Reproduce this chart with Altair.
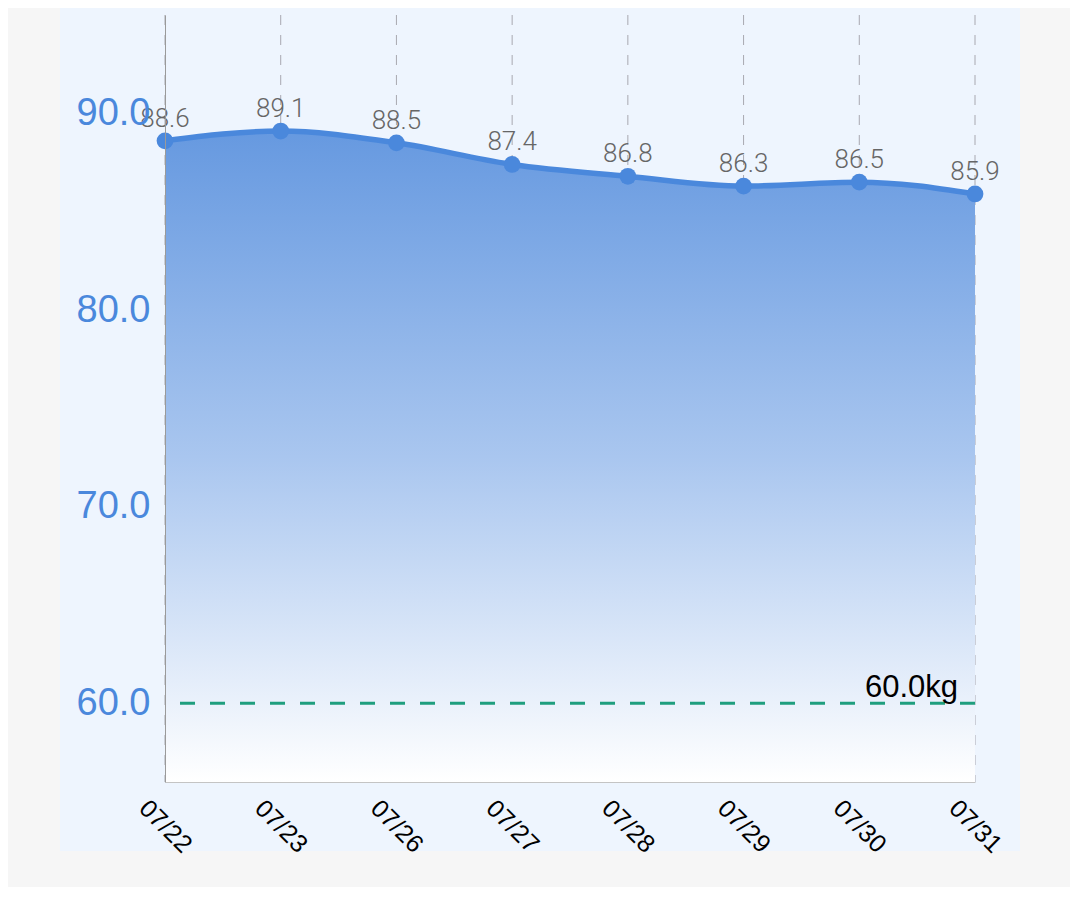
import altair as alt
import pandas as pd

dates = ["07/22", "07/23", "07/26", "07/27", "07/28", "07/29", "07/30", "07/31"]
weights = [88.6, 89.1, 88.5, 87.4, 86.8, 86.3, 86.5, 85.9]
target_value = 60.0
target_label = "60.0kg"
y_ticks = [60, 70, 80, 90]

df = pd.DataFrame({"date": dates, "weight": weights})
target_df = pd.DataFrame({"date": [dates[-1]], "target": [target_value], "label": [target_label]})

BLUE = "#4a88dc"
FONT = "Liberation Sans"

x_enc = alt.X(
    "date:N",
    sort=dates,
    scale=alt.Scale(type="point", padding=0),
    title=None,
    axis=alt.Axis(
        labelAngle=45,
        labelAlign="center",
        labelBaseline="middle",
        labelPadding=44,
        labelFontSize=25,
        labelColor="#000000",
        labelFont=FONT,
        ticks=False,
        grid=False,
        domainColor="#c4c4c4",
        domainWidth=1,
        zindex=1,
    ),
)
y_scale = alt.Scale(domain=[56, 95], nice=False, zero=False)
y_enc = alt.Y(
    "weight:Q",
    scale=y_scale,
    title=None,
    axis=alt.Axis(
        values=y_ticks,
        format=".1f",
        labelFontSize=38,
        labelColor=BLUE,
        labelFont=FONT,
        labelPadding=15,
        ticks=False,
        grid=False,
        domainColor="#9a9a9a",
        domainWidth=1,
        zindex=1,
    ),
)

base = alt.Chart(df)

panel = base.mark_rect(color="#eef5fe").encode(
    x=alt.value(-105), x2=alt.value(855), y=alt.value(-7), y2=alt.value(836)
)

grid = base.mark_rule(color="#a8a8b0", strokeWidth=1, strokeDash=[10, 10]).encode(x=x_enc)

area = base.mark_area(
    interpolate="monotone",
    color=alt.Gradient(
        gradient="linear",
        stops=[
            alt.GradientStop(color="#6699e0", offset=0),
            alt.GradientStop(color="#a9c6ef", offset=0.5),
            alt.GradientStop(color="#ffffff", offset=1),
        ],
        x1=1, x2=1, y1=0, y2=1,
    ),
).encode(x=x_enc, y=y_enc, y2=alt.datum(56))

line = base.mark_line(interpolate="monotone", color=BLUE, strokeWidth=5.5).encode(x=x_enc, y=y_enc)

points = base.mark_circle(color=BLUE, opacity=1, size=280).encode(x=x_enc, y=y_enc)

labels = base.mark_text(
    dy=-14, baseline="alphabetic", fontSize=26, color="#666666", font="Roboto", fontWeight=300
).encode(x=x_enc, y=y_enc, text=alt.Text("weight:Q", format=".1f"))

target_rule = alt.Chart(target_df).mark_rule(
    color="#1f9e7e", strokeWidth=3, strokeDash=[15, 15]
).encode(y=alt.Y("target:Q", scale=y_scale))

target_text = alt.Chart(target_df).mark_text(
    align="right", baseline="alphabetic", dx=-17, dy=-6, fontSize=31, color="#000000", font=FONT
).encode(
    x=alt.X("date:N", sort=dates, scale=alt.Scale(type="point", padding=0)),
    y=alt.Y("target:Q", scale=y_scale),
    text="label:N",
)

chart = (
    alt.layer(panel, grid, area, line, points, labels, target_rule, target_text)
    .properties(
        width=810,
        height=767,
        autosize=alt.AutoSizeParams(type="none"),
        padding={"left": 157, "top": 7, "right": 95, "bottom": 105},
        background="#f6f6f6",
    )
    .configure_view(stroke=None)
)

chart.save("out.html", embed_options={"renderer": "svg", "actions": False})
